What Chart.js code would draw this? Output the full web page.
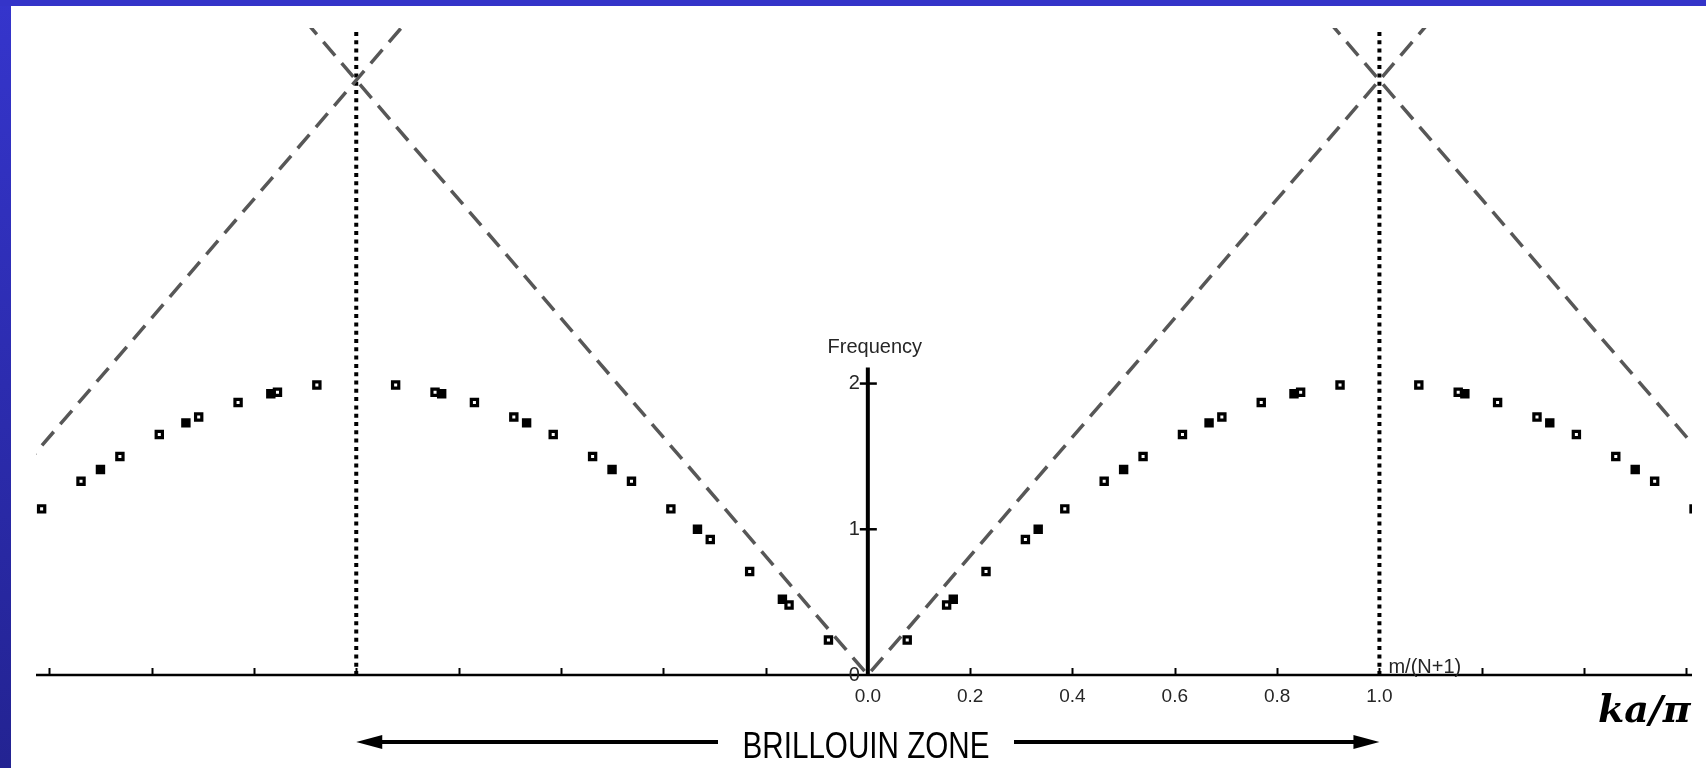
<!DOCTYPE html>
<html>
<head>
<meta charset="utf-8">
<title>Chain normal modes</title>
<script src="https://cdn.jsdelivr.net/npm/chart.js@4.4.1/dist/chart.umd.min.js"></script>
<style>
  html, body { margin: 0; padding: 0; background: #ffffff; overflow: hidden; }
  canvas { display: block; }
</style>
</head>
<body>
<canvas id="chart" width="1706" height="768"></canvas>
<script>
// Normal-mode frequencies of a finite monatomic chain, plotted against
// m/(N+1) = ka/pi and repeated into the neighbouring Brillouin zones.

// N = 12 chain (open squares)
const openK = [
  -1.615, -1.538, -1.462, -1.385, -1.308, -1.231, -1.154, -1.077,
  -0.923, -0.846, -0.769, -0.692, -0.615, -0.538, -0.462, -0.385, -0.308, -0.231, -0.154, -0.077,
   0.077,  0.154,  0.231,  0.308,  0.385,  0.462,  0.538,  0.615,  0.692,  0.769,  0.846,  0.923,
   1.077,  1.154,  1.231,  1.308,  1.385,  1.462,  1.538,  1.615
];
const openW = [
  1.14, 1.33, 1.50, 1.65, 1.77, 1.87, 1.94, 1.99,
  1.99, 1.94, 1.87, 1.77, 1.65, 1.50, 1.33, 1.14, 0.93, 0.71, 0.48, 0.24,
  0.24, 0.48, 0.71, 0.93, 1.14, 1.33, 1.50, 1.65, 1.77, 1.87, 1.94, 1.99,
  1.99, 1.94, 1.87, 1.77, 1.65, 1.50, 1.33, 1.14
];

// N = 5 chain (filled squares)
const filledK = [
  -1.500, -1.333, -1.167,
  -0.833, -0.667, -0.500, -0.333, -0.167,
   0.167,  0.333,  0.500,  0.667,  0.833,
   1.167,  1.333,  1.500
];
const filledW = [
  1.41, 1.73, 1.93,
  1.93, 1.73, 1.41, 1.00, 0.52,
  0.52, 1.00, 1.41, 1.73, 1.93,
  1.93, 1.73, 1.41
];

// long-wavelength (sound) lines, folded back at the zone boundaries
const soundK = [-1.10, 0, 1.10];
const soundW = [4.49, 0, 4.49];
const soundLeftK = [-1.65, -0.90];
const soundLeftW = [1.43, 4.49];
const soundRightK = [0.90, 1.65];
const soundRightW = [4.49, 1.43];

// zone boundaries at ka/pi = -1 and +1
const boundaryK = [-1, 1];
const boundaryTop = 4.42;

// axis ticks and labels
const xTickValues = [-1.6, -1.4, -1.2, -1.0, -0.8, -0.6, -0.4, -0.2, 0.2, 0.4, 0.6, 0.8, 1.0, 1.2, 1.4, 1.6];
const xLabelValues = [0, 0.2, 0.4, 0.6, 0.8, 1.0];
const xLabels = ['0.0', '0.2', '0.4', '0.6', '0.8', '1.0'];
const yTickValues = [1, 2];
const yLabelValues = [0, 1, 2];
const yLabels = ['0', '1', '2'];
const yAxisTop = 2.11;

const pts = (ks, ws) => ks.map((k, i) => ({ x: k, y: ws[i] }));

const SANS = '"Liberation Sans", Arial, sans-serif';

function arrowHead(ctx, tipX, y, dir) {
  ctx.beginPath();
  ctx.moveTo(tipX, y);
  ctx.lineTo(tipX - dir * 26, y - 7);
  ctx.lineTo(tipX - dir * 26, y + 7);
  ctx.closePath();
  ctx.fill();
}

const figureFrame = {
  id: 'figureFrame',
  beforeDraw(chart) {
    const { ctx, width: W, height: H } = chart;
    ctx.save();
    ctx.fillStyle = '#ffffff';
    ctx.fillRect(0, 0, W, H);
    const g = ctx.createLinearGradient(0, 0, 0, H);
    g.addColorStop(0, '#3535cc');
    g.addColorStop(1, '#232392');
    ctx.fillStyle = g;
    ctx.fillRect(0, 0, 11, H);
    ctx.fillStyle = '#3434c9';
    ctx.fillRect(0, 0, W, 6);
    ctx.restore();
  },
  beforeDatasetsDraw(chart) {
    const { ctx, chartArea: a, scales: { x, y } } = chart;
    const y0 = y.getPixelForValue(0);
    ctx.save();
    ctx.strokeStyle = '#000';
    ctx.lineWidth = 2.5;
    ctx.beginPath();
    ctx.moveTo(a.left, y0);
    ctx.lineTo(a.right, y0);
    ctx.stroke();
    ctx.lineWidth = 2;
    for (const t of xTickValues) {
      const px = Math.round(x.getPixelForValue(t)) + 0.5;
      ctx.beginPath();
      ctx.moveTo(px, y0);
      ctx.lineTo(px, y0 - 7);
      ctx.stroke();
    }
    ctx.restore();
  },
  afterDatasetsDraw(chart) {
    const { ctx, scales: { x, y } } = chart;
    const x0 = x.getPixelForValue(0);
    const y0 = y.getPixelForValue(0);
    ctx.save();

    // frequency axis
    ctx.strokeStyle = '#000';
    ctx.lineWidth = 4;
    ctx.beginPath();
    ctx.moveTo(x0, y0);
    ctx.lineTo(x0, y.getPixelForValue(yAxisTop));
    ctx.stroke();
    ctx.lineWidth = 2.5;
    for (const t of yTickValues) {
      const py = y.getPixelForValue(t);
      ctx.beginPath();
      ctx.moveTo(x0 - 8, py);
      ctx.lineTo(x0 + 9, py);
      ctx.stroke();
    }

    ctx.fillStyle = '#262626';
    ctx.font = '20px ' + SANS;
    ctx.textAlign = 'right';
    ctx.textBaseline = 'middle';
    yLabelValues.forEach((v, i) => ctx.fillText(yLabels[i], x0 - 8, y.getPixelForValue(v)));

    ctx.textAlign = 'center';
    ctx.fillText('Frequency', x0 + 7, 347);

    ctx.font = '19px ' + SANS;
    xLabelValues.forEach((v, i) => ctx.fillText(xLabels[i], x.getPixelForValue(v), y0 + 22));

    ctx.font = '20px ' + SANS;
    ctx.textAlign = 'left';
    ctx.textBaseline = 'alphabetic';
    ctx.fillText('m/(N+1)', x.getPixelForValue(1) + 9, y0 - 2);

    // ka/pi axis title
    ctx.fillStyle = '#000';
    ctx.font = 'bold italic 38px "DejaVu Serif", "Liberation Serif", serif';
    ctx.textAlign = 'left';
    ctx.fillText('ka/\u03c0', 1598, 722);

    // Brillouin zone span
    const left = x.getPixelForValue(-1);
    const right = x.getPixelForValue(1);
    const ay = 742;
    ctx.strokeStyle = '#000';
    ctx.fillStyle = '#000';
    ctx.lineWidth = 4;
    ctx.beginPath();
    ctx.moveTo(left + 20, ay);
    ctx.lineTo(718, ay);
    ctx.moveTo(1014, ay);
    ctx.lineTo(right - 20, ay);
    ctx.stroke();
    arrowHead(ctx, left, ay, -1);
    arrowHead(ctx, right, ay, 1);

    ctx.font = '37px ' + SANS;
    const label = 'BRILLOUIN ZONE';
    const w = ctx.measureText(label).width;
    const sx = 247 / w;
    ctx.save();
    ctx.translate(866, 758);
    ctx.scale(sx, 1);
    ctx.textAlign = 'center';
    ctx.fillText(label, 0, 0);
    ctx.restore();

    ctx.restore();
  }
};

const pointStyleOpen = {
  pointStyle: 'rect', pointRadius: 4.4, pointBorderWidth: 3.2,
  pointBorderColor: '#000', pointBackgroundColor: '#fff'
};
const pointStyleFilled = {
  pointStyle: 'rect', pointRadius: 4.4, pointBorderWidth: 3.2,
  pointBorderColor: '#000', pointBackgroundColor: '#000'
};
const soundStyle = {
  type: 'line', showLine: true, pointRadius: 0, borderColor: '#575757',
  borderWidth: 3.5, borderDash: [18, 10], fill: false, clip: 0
};
const boundaryStyle = {
  type: 'line', showLine: true, pointRadius: 0, borderColor: '#000',
  borderWidth: 4, borderDash: [4, 4.3], fill: false, clip: 0
};

new Chart(document.getElementById('chart'), {
  type: 'scatter',
  data: {
    datasets: [
      { label: 'N = 12', data: pts(openK, openW), showLine: false, clip: 0, ...pointStyleOpen },
      { label: 'N = 5', data: pts(filledK, filledW), showLine: false, clip: 0, ...pointStyleFilled },
      { label: 'sound', data: pts(soundK, soundW), ...soundStyle },
      { label: 'sound, left zone', data: pts(soundLeftK, soundLeftW), ...soundStyle },
      { label: 'sound, right zone', data: pts(soundRightK, soundRightW), ...soundStyle },
      { label: 'zone edge -1', data: [{ x: boundaryK[0], y: 0 }, { x: boundaryK[0], y: boundaryTop }], ...boundaryStyle },
      { label: 'zone edge +1', data: [{ x: boundaryK[1], y: 0 }, { x: boundaryK[1], y: boundaryTop }], ...boundaryStyle }
    ]
  },
  options: {
    responsive: false,
    animation: false,
    devicePixelRatio: 1,
    layout: { padding: { left: 36, right: 14, top: 28, bottom: 93 } },
    scales: {
      x: { type: 'linear', min: -1.626, max: 1.611, display: false },
      y: { type: 'linear', min: 0, max: 4.44, display: false }
    },
    plugins: {
      legend: { display: false },
      tooltip: { enabled: false }
    },
    events: []
  },
  plugins: [figureFrame]
});
</script>
</body>
</html>
